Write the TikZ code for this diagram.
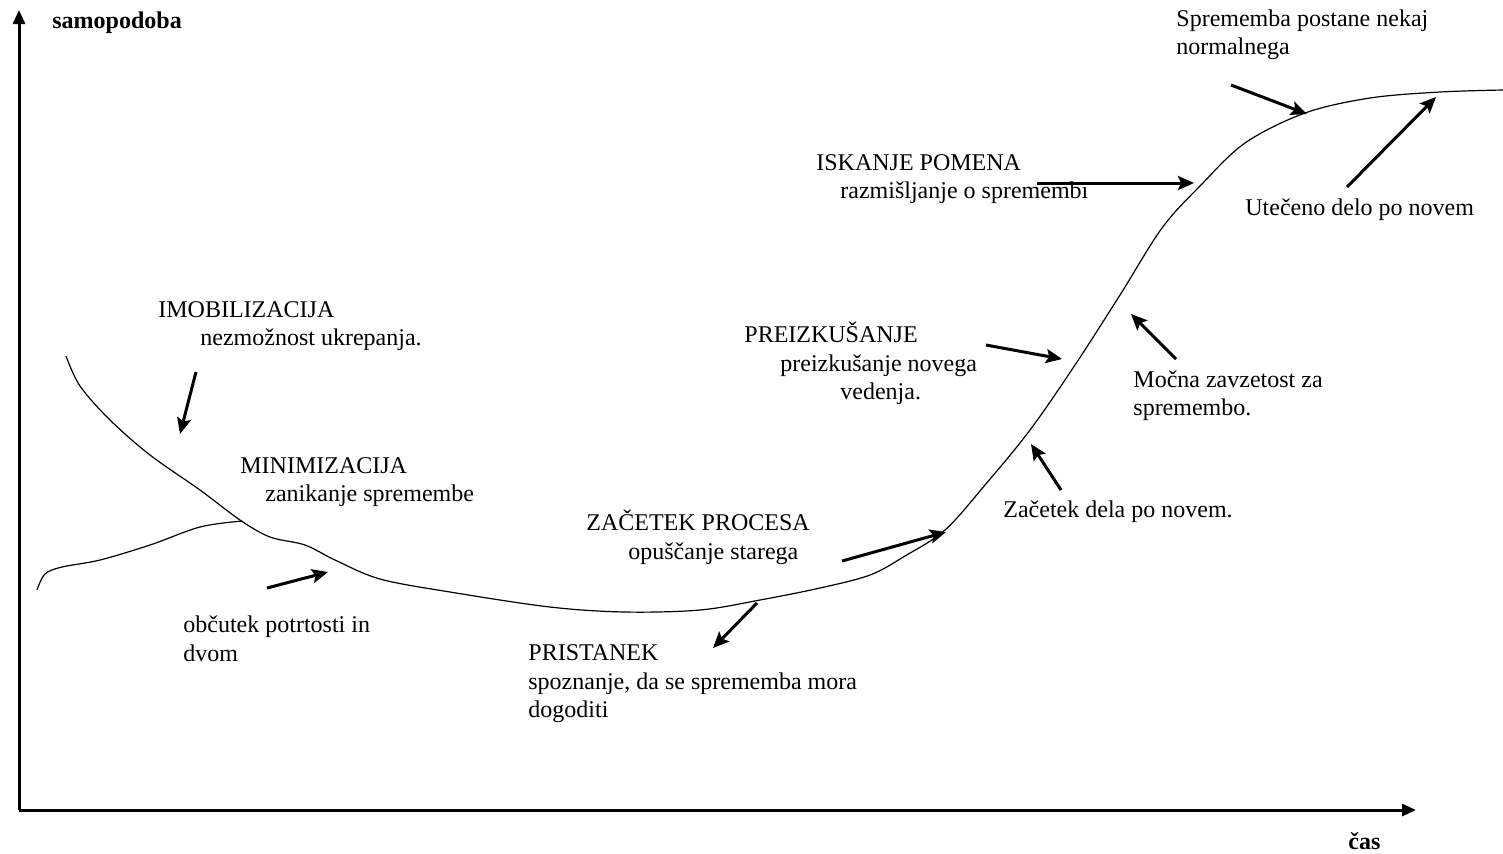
\documentclass[tikz,border=0pt]{standalone}
\usepackage{fontspec}
\setmainfont{Liberation Serif}
\newfontfamily\tnrfont{Liberation Serif}
\usetikzlibrary{arrows.meta}
\begin{document}
\begin{tikzpicture}[x=0.5pt,y=-0.5pt,
  lbl/.style={anchor=base west,inner sep=0pt,font=\tnrfont\fontsize{12}{14}\selectfont},
  blbl/.style={anchor=base west,inner sep=0pt,font=\tnrfont\fontsize{12}{14}\selectfont\bfseries},
  axis/.style={line width=1.5pt,-{Triangle[length=7pt,width=6pt]}},
  pointer/.style={line width=1.5pt,-{Stealth[length=8pt,width=7pt,inset=1.5pt]}},
  curve/.style={line width=0.6pt}]
\useasboundingbox (0,0) rectangle (1503,853);
% axes
\coordinate (O) at (19,810);
\coordinate (Ytop) at (19,10);
\coordinate (Xend) at (1416,810);
\draw[axis] (O) -- (Ytop);
\draw[axis] (O) -- (Xend);
\node[blbl] (ylab) at (52,28) {samopodoba};
\node[blbl] (xlab) at (1348,849) {čas};
% curves
\draw[curve] plot[smooth,tension=0.55] coordinates {(66,356) (80,386) (110,420) (150,455) (200,490) (240,520) (270,537) (305,545) (335,560) (380,579) (450,592) (550,607) (625,612) (700,610) (760,600) (820,588) (870,575) (905,556) (945,530) (985,485) (1030,430) (1075,365) (1120,295) (1162,228) (1200,186) (1245,143) (1305,113) (1370,98) (1440,92) (1503,90)};
\draw[curve] plot[smooth,tension=0.55] coordinates {(37,590) (45,574) (62,567) (100,560) (150,545) (200,527) (242,521)};
% labels
\node[lbl] (spr1) at (1176,26) {Sprememba postane nekaj};
\node[lbl] (spr2) at (1176,54) {normalnega};
\node[lbl] (isk1) at (816,170) {ISKANJE POMENA};
\node[lbl] (isk2) at (840,198) {razmišljanje o spremembi};
\node[lbl] (ute) at (1245,215) {Utečeno delo po novem};
\node[lbl] (imo1) at (158,317) {IMOBILIZACIJA};
\node[lbl] (imo2) at (200,345) {nezmožnost ukrepanja.};
\node[lbl] (pre1) at (744,342) {PREIZKUŠANJE};
\node[lbl] (pre2) at (780,371) {preizkušanje novega};
\node[lbl] (pre3) at (840,399) {vedenja.};
\node[lbl] (moc1) at (1133,387) {Močna zavzetost za};
\node[lbl] (moc2) at (1133,415) {spremembo.};
\node[lbl] (min1) at (240,473) {MINIMIZACIJA};
\node[lbl] (min2) at (265,501) {zanikanje spremembe};
\node[lbl] (zdn) at (1003,517) {Začetek dela po novem.};
\node[lbl] (zp1) at (586,530) {ZAČETEK PROCESA};
\node[lbl] (zp2) at (628,559) {opuščanje starega};
\node[lbl] (obc1) at (183,632) {občutek potrtosti in};
\node[lbl] (obc2) at (183,661) {dvom};
\node[lbl] (pri1) at (528,660) {PRISTANEK};
\node[lbl] (pri2) at (528,689) {spoznanje, da se sprememba mora};
\node[lbl] (pri3) at (528,717) {dogoditi};
% arrow end points
\coordinate (a1s) at (196,372); \coordinate (a1e) at (180,434);
\coordinate (a2s) at (267,588); \coordinate (a2e) at (328,572);
\coordinate (a3s) at (757,603); \coordinate (a3e) at (713,648);
\coordinate (a4s) at (842,561); \coordinate (a4e) at (946,532);
\coordinate (a5s) at (986,345); \coordinate (a5e) at (1062,359);
\coordinate (a6s) at (1037,183); \coordinate (a6e) at (1194,183);
\coordinate (a7s) at (1231,85);  \coordinate (a7e) at (1307,114);
\coordinate (a8s) at (1347,187); \coordinate (a8e) at (1436,97);
\coordinate (a9s) at (1176,359); \coordinate (a9e) at (1131,314);
\coordinate (a10s) at (1061,490); \coordinate (a10e) at (1031,444);
\draw[pointer] (a1s) -- (a1e);
\draw[pointer] (a2s) -- (a2e);
\draw[pointer] (a3s) -- (a3e);
\draw[pointer] (a4s) -- (a4e);
\draw[pointer] (a5s) -- (a5e);
\draw[pointer] (a6s) -- (a6e);
\draw[pointer] (a7s) -- (a7e);
\draw[pointer] (a8s) -- (a8e);
\draw[pointer] (a9s) -- (a9e);
\draw[pointer] (a10s) -- (a10e);
\end{tikzpicture}
\end{document}
